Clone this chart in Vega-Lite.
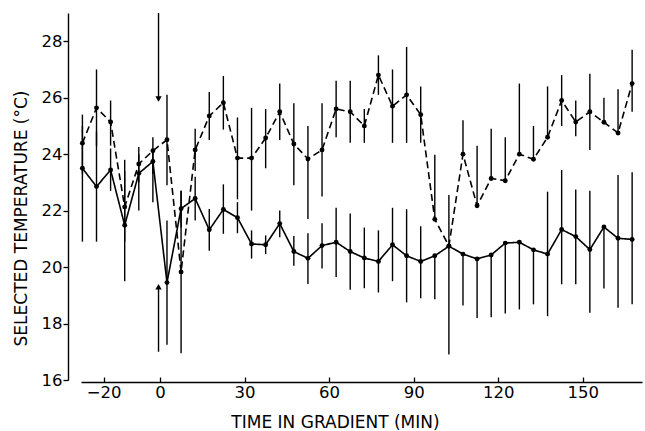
{
  "$schema": "https://vega.github.io/schema/vega-lite/v6.json",
  "autosize": "none",
  "width": 561,
  "height": 367,
  "padding": {"left": 81, "top": 13, "right": 3, "bottom": 51},
  "background": "white",
  "config": {
    "view": {"stroke": null},
    "axis": {
      "domainColor": "black", "tickColor": "black", "labelColor": "black", "titleColor": "black",
      "labelFont": "DejaVu Sans", "titleFont": "DejaVu Sans", "labelFontSize": 16.5, "titleFontSize": 17,
      "titleFontWeight": "normal", "grid": false, "domainWidth": 1.4, "tickWidth": 1.3
    }
  },
  "datasets": {
    "series": [
      {"t": -27.5, "series": "A", "temp": 23.5, "lo": 20.9, "hi": 25.0},
      {"t": -22.5, "series": "A", "temp": 22.85, "lo": 20.9, "hi": 24.8},
      {"t": -17.5, "series": "A", "temp": 23.44, "lo": 22.7, "hi": 24.2},
      {"t": -12.5, "series": "A", "temp": 21.48, "lo": 19.5, "hi": 23.4},
      {"t": -7.5, "series": "A", "temp": 23.32, "lo": 22.0, "hi": 24.0},
      {"t": -2.5, "series": "A", "temp": 23.74, "lo": 22.3, "hi": 24.2},
      {"t": 2.5, "series": "A", "temp": 19.45, "lo": 17.25, "hi": 21.65},
      {"t": 7.5, "series": "A", "temp": 22.07, "lo": 21.4, "hi": 22.7},
      {"t": 12.5, "series": "A", "temp": 22.43, "lo": 21.65, "hi": 23.2},
      {"t": 17.5, "series": "A", "temp": 21.32, "lo": 20.58, "hi": 22.06},
      {"t": 22.5, "series": "A", "temp": 22.04, "lo": 21.18, "hi": 22.93},
      {"t": 27.5, "series": "A", "temp": 21.75, "lo": 21.2, "hi": 22.3},
      {"t": 32.5, "series": "A", "temp": 20.82, "lo": 20.3, "hi": 21.3},
      {"t": 37.5, "series": "A", "temp": 20.79, "lo": 20.46, "hi": 21.12},
      {"t": 42.5, "series": "A", "temp": 21.54, "lo": 21.06, "hi": 22.0},
      {"t": 47.5, "series": "A", "temp": 20.55, "lo": 20.05, "hi": 21.1},
      {"t": 52.5, "series": "A", "temp": 20.31, "lo": 19.4, "hi": 21.2},
      {"t": 57.5, "series": "A", "temp": 20.76, "lo": 19.95, "hi": 21.55},
      {"t": 62.5, "series": "A", "temp": 20.88, "lo": 19.65, "hi": 22.1},
      {"t": 67.5, "series": "A", "temp": 20.55, "lo": 19.2, "hi": 21.9},
      {"t": 72.5, "series": "A", "temp": 20.32, "lo": 19.25, "hi": 21.4},
      {"t": 77.5, "series": "A", "temp": 20.2, "lo": 19.1, "hi": 21.3},
      {"t": 82.5, "series": "A", "temp": 20.79, "lo": 19.5, "hi": 22.1},
      {"t": 87.5, "series": "A", "temp": 20.4, "lo": 18.75, "hi": 22.05},
      {"t": 92.5, "series": "A", "temp": 20.2, "lo": 18.9, "hi": 21.45},
      {"t": 97.5, "series": "A", "temp": 20.4, "lo": 18.86, "hi": 20.4},
      {"t": 102.5, "series": "A", "temp": 20.74, "lo": 16.9, "hi": 22.55},
      {"t": 107.5, "series": "A", "temp": 20.46, "lo": 18.64, "hi": 20.46},
      {"t": 112.5, "series": "A", "temp": 20.29, "lo": 18.2, "hi": 20.29},
      {"t": 117.5, "series": "A", "temp": 20.43, "lo": 18.22, "hi": 20.43},
      {"t": 122.5, "series": "A", "temp": 20.85, "lo": 18.36, "hi": 20.85},
      {"t": 127.5, "series": "A", "temp": 20.88, "lo": 18.5, "hi": 20.88},
      {"t": 132.5, "series": "A", "temp": 20.61, "lo": 18.68, "hi": 20.61},
      {"t": 137.5, "series": "A", "temp": 20.46, "lo": 18.26, "hi": 22.67},
      {"t": 142.5, "series": "A", "temp": 21.33, "lo": 19.39, "hi": 23.44},
      {"t": 147.5, "series": "A", "temp": 21.08, "lo": 19.39, "hi": 22.75},
      {"t": 152.5, "series": "A", "temp": 20.62, "lo": 18.38, "hi": 22.7},
      {"t": 157.5, "series": "A", "temp": 21.42, "lo": 19.24, "hi": 21.42},
      {"t": 162.5, "series": "A", "temp": 21.02, "lo": 18.56, "hi": 23.26},
      {"t": 167.5, "series": "A", "temp": 20.98, "lo": 18.68, "hi": 23.36},
      {"t": -27.5, "series": "B", "temp": 24.39, "lo": 23.3, "hi": 25.4},
      {"t": -22.5, "series": "B", "temp": 25.64, "lo": 24.3, "hi": 27.0},
      {"t": -17.5, "series": "B", "temp": 25.14, "lo": 24.3, "hi": 25.9},
      {"t": -12.5, "series": "B", "temp": 22.13, "lo": 20.9, "hi": 23.8},
      {"t": -7.5, "series": "B", "temp": 23.65, "lo": 23.0, "hi": 24.25},
      {"t": -2.5, "series": "B", "temp": 24.12, "lo": 23.3, "hi": 24.6},
      {"t": 2.5, "series": "B", "temp": 24.51, "lo": 22.9, "hi": 26.1},
      {"t": 7.5, "series": "B", "temp": 19.83, "lo": 16.95, "hi": 22.7},
      {"t": 12.5, "series": "B", "temp": 24.15, "lo": 23.4, "hi": 24.9},
      {"t": 17.5, "series": "B", "temp": 25.35, "lo": 24.5, "hi": 26.2},
      {"t": 22.5, "series": "B", "temp": 25.82, "lo": 24.87, "hi": 26.77},
      {"t": 27.5, "series": "B", "temp": 23.86, "lo": 22.4, "hi": 25.3},
      {"t": 32.5, "series": "B", "temp": 23.86, "lo": 22.0, "hi": 25.64},
      {"t": 37.5, "series": "B", "temp": 24.57, "lo": 23.5, "hi": 25.6},
      {"t": 42.5, "series": "B", "temp": 25.5, "lo": 24.5, "hi": 26.5},
      {"t": 47.5, "series": "B", "temp": 24.36, "lo": 22.9, "hi": 25.8},
      {"t": 52.5, "series": "B", "temp": 23.83, "lo": 21.7, "hi": 25.0},
      {"t": 57.5, "series": "B", "temp": 24.15, "lo": 22.5, "hi": 25.8},
      {"t": 62.5, "series": "B", "temp": 25.6, "lo": 24.6, "hi": 26.6},
      {"t": 67.5, "series": "B", "temp": 25.5, "lo": 24.4, "hi": 26.6},
      {"t": 72.5, "series": "B", "temp": 25.0, "lo": 24.4, "hi": 25.6},
      {"t": 77.5, "series": "B", "temp": 26.8, "lo": 26.1, "hi": 27.5},
      {"t": 82.5, "series": "B", "temp": 25.7, "lo": 24.4, "hi": 27.0},
      {"t": 87.5, "series": "B", "temp": 26.1, "lo": 24.4, "hi": 27.8},
      {"t": 92.5, "series": "B", "temp": 25.4, "lo": 24.4, "hi": 26.4},
      {"t": 97.5, "series": "B", "temp": 21.69, "lo": 21.69, "hi": 23.98},
      {"t": 102.5, "series": "B", "temp": 20.75, "lo": null, "hi": null},
      {"t": 107.5, "series": "B", "temp": 24.0, "lo": 24.0, "hi": 25.2},
      {"t": 112.5, "series": "B", "temp": 22.17, "lo": 22.17, "hi": 24.3},
      {"t": 117.5, "series": "B", "temp": 23.14, "lo": 23.14, "hi": 24.9},
      {"t": 122.5, "series": "B", "temp": 23.06, "lo": 23.06, "hi": 24.6},
      {"t": 127.5, "series": "B", "temp": 24.0, "lo": 24.0, "hi": 26.5},
      {"t": 132.5, "series": "B", "temp": 23.82, "lo": 23.82, "hi": 25.0},
      {"t": 137.5, "series": "B", "temp": 24.6, "lo": 24.6, "hi": 26.4},
      {"t": 142.5, "series": "B", "temp": 25.9, "lo": 25.0, "hi": 26.8},
      {"t": 147.5, "series": "B", "temp": 25.14, "lo": 24.63, "hi": 25.9},
      {"t": 152.5, "series": "B", "temp": 25.5, "lo": 24.15, "hi": 26.85},
      {"t": 157.5, "series": "B", "temp": 25.13, "lo": 25.13, "hi": 26.0},
      {"t": 162.5, "series": "B", "temp": 24.75, "lo": 24.75, "hi": 26.3},
      {"t": 167.5, "series": "B", "temp": 26.5, "lo": 25.5, "hi": 27.7}
    ],
    "arrows": [
      {"t": -0.5, "from": 29.0, "to": 25.9, "head": 25.95, "dir": "down"},
      {"t": -0.5, "from": 17.0, "to": 19.3, "head": 19.3, "dir": "up"}
    ]
  },
  "layer": [
    {
      "data": {"name": "series"},
      "mark": {"type": "rule", "color": "black", "strokeWidth": 1.4},
      "encoding": {
        "x": {"field": "t", "type": "quantitative", "scale": {"domain": [-28, 171], "nice": false, "zero": false},
          "axis": {"values": [-20, 0, 30, 60, 90, 120, 150], "title": "TIME IN GRADIENT (MIN)", "tickSize": -5, "offset": 2, "labelPadding": 7, "titleX": 254, "titleY": 40, "titleBaseline": "middle", "titleAlign": "center"}},
        "y": {"field": "lo", "type": "quantitative", "scale": {"domain": [16, 29], "nice": false, "zero": false},
          "axis": {"values": [16, 17, 18, 19, 20, 21, 22, 23, 24, 25, 26, 27, 28, 29], "labelExpr": "datum.value % 2 == 0 ? datum.label : ''", "title": "SELECTED TEMPERATURE (°C)", "tickSize": 5, "offset": 13, "labelPadding": 1, "titleX": -47, "titleY": 205, "titleAngle": -90, "titleBaseline": "middle", "titleAlign": "center", "labelOverlap": false}},
        "y2": {"field": "hi"}
      }
    },
    {
      "data": {"name": "series"},
      "mark": {"type": "line", "color": "black", "strokeWidth": 1.6},
      "encoding": {
        "x": {"field": "t", "type": "quantitative"},
        "y": {"field": "temp", "type": "quantitative"},
        "detail": {"field": "series"},
        "strokeDash": {"field": "series", "type": "nominal", "scale": {"domain": ["A", "B"], "range": [[1, 0], [7, 4]]}, "legend": null}
      }
    },
    {
      "data": {"name": "series"},
      "mark": {"type": "point", "filled": true, "color": "black", "size": 24, "opacity": 1},
      "encoding": {
        "x": {"field": "t", "type": "quantitative"},
        "y": {"field": "temp", "type": "quantitative"}
      }
    },
    {
      "data": {"name": "arrows"},
      "mark": {"type": "rule", "color": "black", "strokeWidth": 1.4},
      "encoding": {
        "x": {"field": "t", "type": "quantitative"},
        "y": {"field": "from", "type": "quantitative"},
        "y2": {"field": "to"}
      }
    },
    {
      "data": {"name": "arrows"},
      "mark": {"type": "point", "filled": true, "color": "black", "size": 40, "opacity": 1},
      "encoding": {
        "x": {"field": "t", "type": "quantitative"},
        "y": {"field": "head", "type": "quantitative"},
        "shape": {"field": "dir", "type": "nominal", "scale": {"domain": ["down", "up"], "range": ["triangle-down", "triangle-up"]}, "legend": null}
      }
    }
  ]
}
